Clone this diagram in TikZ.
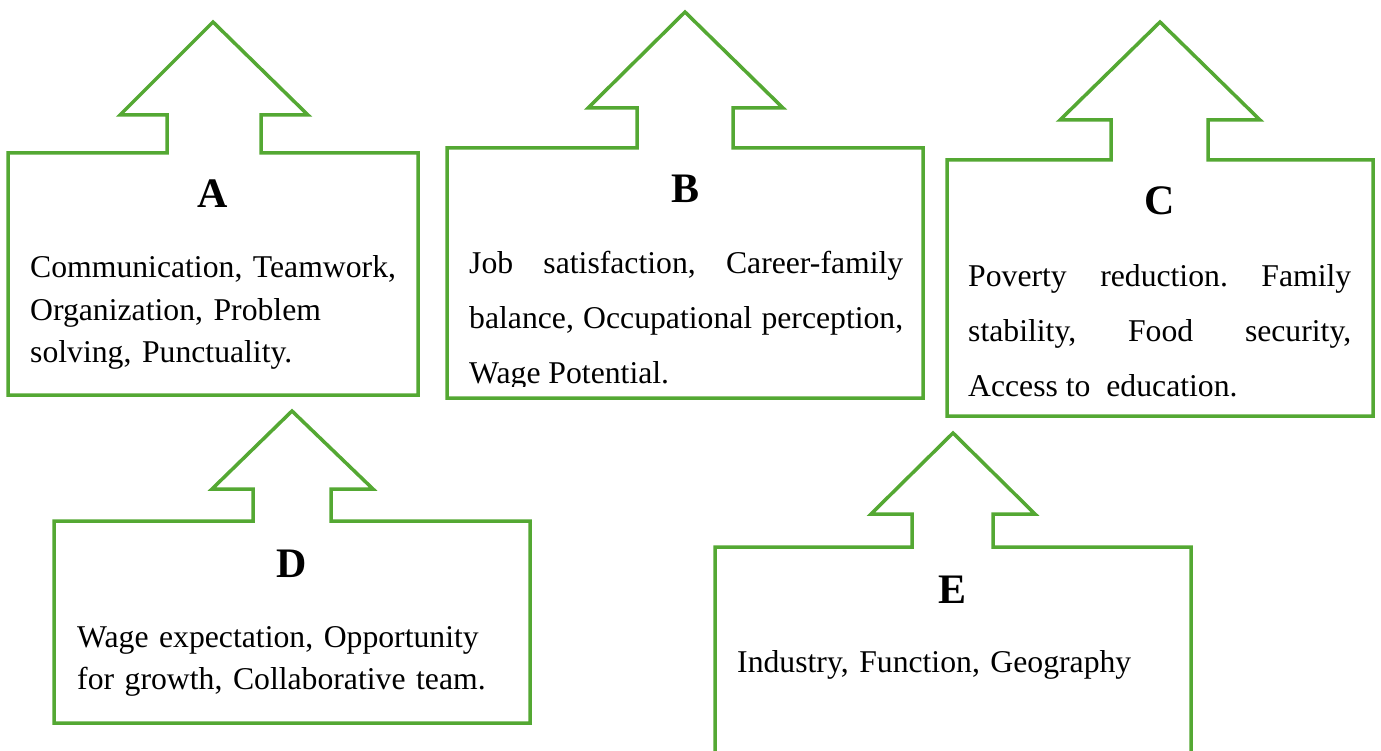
\documentclass[tikz,border=0pt]{standalone}
\usepackage{fontspec}
\setmainfont{Liberation Serif}
\frenchspacing
\definecolor{boxGreen}{RGB}{84,168,51}

\tikzstyle{cS}=[draw=boxGreen, line width=3.5pt, line join=miter]
\tikzstyle{tS}=[anchor=base, inner sep=0pt, font=\fontsize{42}{50}\selectfont\bfseries]
\tikzstyle{bS}=[anchor=base west, inner sep=0pt, align=left, font=\fontsize{31.7}{42.5}\selectfont]
\tikzstyle{jS}=[anchor=base west, inner sep=0pt, align=justify, font=\fontsize{31.7}{55}\selectfont]

\begin{document}
\begin{tikzpicture}[x=1pt,y=-1pt]
    \useasboundingbox (0,0) rectangle (1381,751);

    % callout outlines
    \draw[cS] (8,153) -- (167,153) -- (167,115) -- (120,115) -- (213,22) -- (308,115) -- (261,115) -- (261,153) -- (418,153) -- (418,395) -- (8,395) -- cycle;
    \draw[cS] (447,148) -- (637,148) -- (637,108) -- (588,108) -- (685,12) -- (783,108) -- (733,108) -- (733,148) -- (923,148) -- (923,398) -- (447,398) -- cycle;
    \draw[cS] (947,160) -- (1111,160) -- (1111,120) -- (1060,120) -- (1160,22) -- (1260,120) -- (1208,120) -- (1208,160) -- (1373,160) -- (1373,416) -- (947,416) -- cycle;
    \draw[cS] (54,521) -- (253,521) -- (253,489) -- (212,489) -- (292,411) -- (373,489) -- (331,489) -- (331,521) -- (530,521) -- (530,723) -- (54,723) -- cycle;
    \draw[cS] (715,765) -- (715,547) -- (912,547) -- (912,514) -- (871,514) -- (953,433) -- (1035,514) -- (993,514) -- (993,547) -- (1191,547) -- (1191,765);

    % titles
    \draw (213,208) node[tS] (tA) {A};
    \draw (685,203) node[tS] (tB) {B};
    \draw (1160,215) node[tS] (tC) {C};
    \draw (292,577) node[tS] (tD) {D};
    \draw (952,603) node[tS] (tE) {E};

    % texts
    \draw (30,278) node[bS, text width=385] (bA) {Communication, Teamwork,\\ Organization, Problem\\ solving, Punctuality.};
    \begin{scope}
        \clip (447,150) rectangle (923,386);
        \draw (469,273) node[jS, text width=434] (bB) {Job satisfaction, Career-family\linebreak balance, Occupational perception,\linebreak Wage Potential.};
    \end{scope}
    \draw (968,287) node[jS, text width=383] (bC) {Poverty reduction. Family\linebreak stability, Food security,\linebreak Access to~ education.};
    \draw (77,647) node[bS, text width=440] (bD) {Wage expectation, Opportunity\\ for growth, Collaborative team.};
    \draw (737,672) node[bS, text width=440] (bE) {Industry, Function, Geography};
\end{tikzpicture}
\end{document}
